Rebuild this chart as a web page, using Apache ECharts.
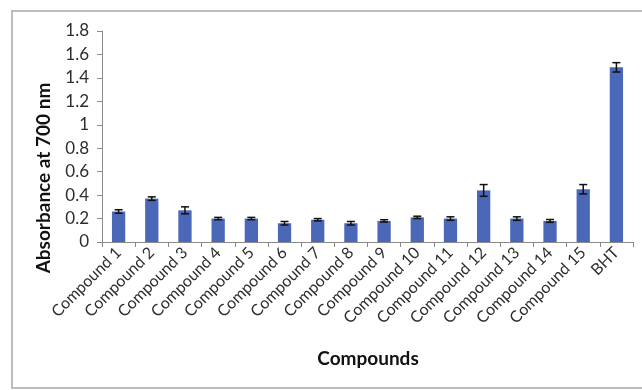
<!DOCTYPE html>
<html>
<head>
<meta charset="utf-8">
<script src="https://cdn.jsdelivr.net/npm/echarts@6/dist/echarts.min.js"></script>
<style>
  html, body { margin: 0; padding: 0; background: #fff; }
  #chart { width: 642px; height: 390px; }
</style>
</head>
<body>
<div id="chart"></div>
<script>
// Reducing power: absorbance at 700 nm per compound (mean ± error)
const categories = [
  'Compound 1', 'Compound 2', 'Compound 3', 'Compound 4', 'Compound 5',
  'Compound 6', 'Compound 7', 'Compound 8', 'Compound 9', 'Compound 10',
  'Compound 11', 'Compound 12', 'Compound 13', 'Compound 14', 'Compound 15', 'BHT'
];
const absorbance = [0.26, 0.37, 0.27, 0.20, 0.20, 0.16, 0.19, 0.16, 0.18, 0.21, 0.20, 0.44, 0.20, 0.18, 0.45, 1.49];
const errors     = [0.015, 0.015, 0.03, 0.01, 0.01, 0.015, 0.01, 0.015, 0.01, 0.01, 0.015, 0.05, 0.015, 0.012, 0.04, 0.04];
const yTicks = { min: 0, max: 1.8, step: 0.2 };

const FONT = 'Lato, "Open Sans", sans-serif';
const chart = echarts.init(document.getElementById('chart'));

chart.setOption({
  animation: false,
  backgroundColor: '#ffffff',
  grid: { left: 102, right: 9, top: 31, bottom: 148, containLabel: false },
  xAxis: {
    type: 'category',
    data: categories,
    boundaryGap: true,
    axisLine: { lineStyle: { color: '#8a8a8a', width: 1 } },
    axisTick: { show: true, length: 5, lineStyle: { color: '#8a8a8a' } },
    axisLabel: {
      interval: 0, rotate: 45, margin: 8,
      color: '#2e2e2e', fontSize: 16, fontFamily: FONT
    }
  },
  yAxis: {
    type: 'value',
    min: yTicks.min, max: yTicks.max, interval: yTicks.step,
    axisLine: { show: true, lineStyle: { color: '#8a8a8a', width: 1 } },
    axisTick: { show: true, length: 5, lineStyle: { color: '#8a8a8a' } },
    splitLine: { show: false },
    axisLabel: {
      margin: 13, color: '#2e2e2e', fontSize: 17, fontFamily: FONT,
      formatter: v => String(Math.round(v * 10) / 10)
    }
  },
  series: [
    {
      type: 'bar',
      data: absorbance,
      barWidth: '40%',
      itemStyle: { color: '#4a67b8' },
      z: 2
    },
    {
      type: 'custom',
      z: 3,
      data: absorbance.map((v, i) => [i, v - errors[i], v + errors[i]]),
      renderItem: function (params, api) {
        const lo = api.coord([api.value(0), api.value(1)]);
        const hi = api.coord([api.value(0), api.value(2)]);
        const half = 4;
        const style = { stroke: '#111111', lineWidth: 1.5 };
        return {
          type: 'group',
          children: [
            { type: 'line', shape: { x1: hi[0], y1: hi[1], x2: lo[0], y2: lo[1] }, style },
            { type: 'line', shape: { x1: hi[0] - half, y1: hi[1], x2: hi[0] + half, y2: hi[1] }, style },
            { type: 'line', shape: { x1: lo[0] - half, y1: lo[1], x2: lo[0] + half, y2: lo[1] }, style }
          ]
        };
      }
    }
  ],
  graphic: [
    {
      type: 'polyline', silent: true,
      shape: { points: [[660, 11], [12, 11], [12, 388], [660, 388]] },
      style: { fill: 'none', stroke: '#bdbdbd', lineWidth: 2 }
    },
    {
      type: 'text', x: 44, y: 178, rotation: Math.PI / 2,
      style: {
        text: 'Absorbance at 700 nm', fill: '#111111',
        font: 'bold 19px ' + FONT, align: 'center', verticalAlign: 'middle'
      }
    },
    {
      type: 'text', x: 368, y: 359,
      style: {
        text: 'Compounds', fill: '#111111',
        font: 'bold 19px ' + FONT, align: 'center', verticalAlign: 'middle'
      }
    }
  ]
});
</script>
</body>
</html>
